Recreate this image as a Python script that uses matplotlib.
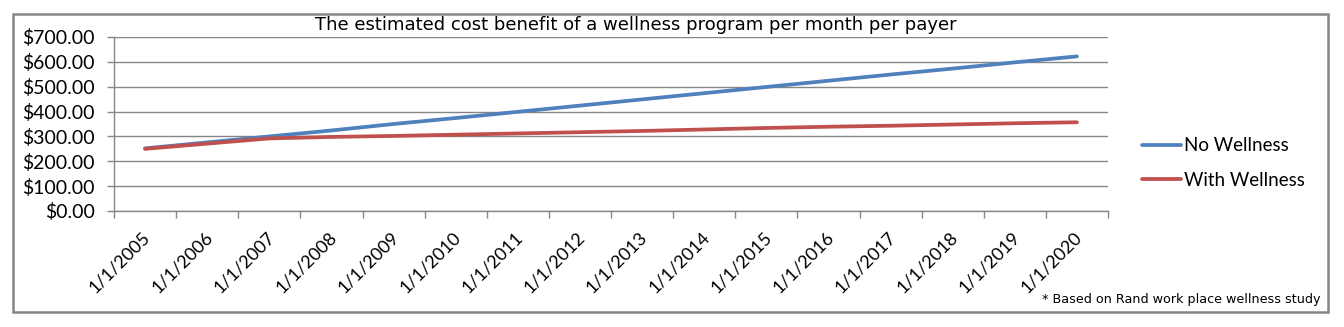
import numpy as np
import matplotlib
matplotlib.use("Agg")
import matplotlib.pyplot as plt
from matplotlib.patches import Rectangle
from matplotlib.ticker import FuncFormatter, FixedLocator
from matplotlib.transforms import ScaledTranslation

# data
years = ["1/1/2005", "1/1/2006", "1/1/2007", "1/1/2008", "1/1/2009", "1/1/2010",
         "1/1/2011", "1/1/2012", "1/1/2013", "1/1/2014", "1/1/2015", "1/1/2016",
         "1/1/2017", "1/1/2018", "1/1/2019", "1/1/2020"]
no_wellness = [252, 276, 300, 324, 350, 374, 399, 424, 449, 474, 499, 524, 549, 573, 598, 622]
with_wellness = [250, 271, 292, 298, 302, 307, 312, 317, 322, 328, 334, 339, 343, 348, 353, 357]

label_font = ["Lato", "DejaVu Sans"]

fig = plt.figure(figsize=(13.44, 3.27), dpi=100)
ax = fig.add_axes([114/1344, 1-211/327, (1108-114)/1344, (211-37)/327])

x = np.arange(len(years))
ax.plot(x, no_wellness, color="#4F81BD", linewidth=2.7, label="No Wellness", solid_capstyle="round")
ax.plot(x, with_wellness, color="#C0504D", linewidth=2.7, label="With Wellness", solid_capstyle="round")

ax.set_xlim(-0.5, len(years) - 0.5)
ax.set_ylim(0, 700)
ax.set_yticks(np.arange(0, 701, 100))
ax.yaxis.set_major_formatter(FuncFormatter(lambda v, p: "${:,.2f}".format(v)))
ax.grid(axis="y", color="#868686", linewidth=1)
ax.set_axisbelow(True)

# category labels at centers, tick marks at boundaries
ax.set_xticks(x)
ax.set_xticklabels(years, rotation=45, ha="right", va="top", rotation_mode="anchor",
                   fontsize=13, family=label_font)
ax.tick_params(axis="x", which="major", length=0, pad=13)
shift = ScaledTranslation(-3/100, 0, fig.dpi_scale_trans)
for lab in ax.get_xticklabels():
    lab.set_transform(lab.get_transform() + shift)
ax.xaxis.set_minor_locator(FixedLocator(np.arange(-0.5, len(years), 1)))
ax.tick_params(axis="x", which="minor", length=5, color="#868686", width=1)
ax.tick_params(axis="y", length=5, color="#868686", width=1, pad=9)
for lab in ax.get_yticklabels():
    lab.set_fontsize(14)
    lab.set_family(label_font)

for s in ["top", "right"]:
    ax.spines[s].set_visible(False)
for s in ["left", "bottom"]:
    ax.spines[s].set_color("#868686")
    ax.spines[s].set_linewidth(1)

fig.text(636/1344, 1-25/327, "The estimated cost benefit of a wellness program per month per payer",
         ha="center", va="center", fontsize=13, family="DejaVu Sans")

leg = ax.legend(loc="center left", bbox_to_anchor=(1125/1344, 1-163/327),
                bbox_transform=fig.transFigure, frameon=False, handlelength=2.1,
                handletextpad=0.15, labelspacing=0.95, prop={"family": label_font, "size": 13.5})

fig.text(1320/1344, 1-300/327, "* Based on Rand work place wellness study",
         ha="right", va="center", fontsize=9.2, family="DejaVu Sans")

# outer chart border
fig.patches.append(Rectangle((13/1344, 1-312/327), (1328-13)/1344, (312-14)/327,
                             transform=fig.transFigure, fill=False,
                             edgecolor="#868686", linewidth=1.8))

fig.savefig("out.png", dpi=100)
